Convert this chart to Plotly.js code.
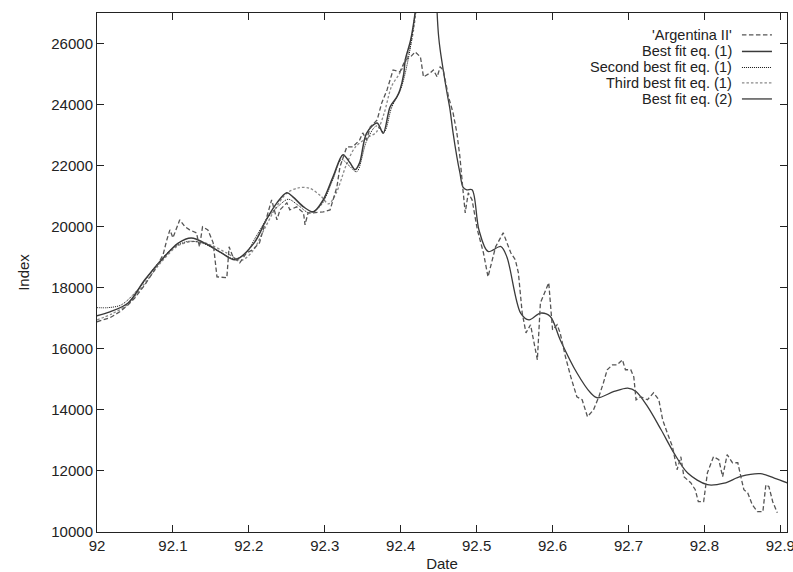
<!DOCTYPE html>
<html>
<head>
<meta charset="utf-8">
<script src="https://cdn.plot.ly/plotly-3.0.1.min.js"></script>
<style>
  html, body { margin: 0; padding: 0; background: #fff; }
  #chart { width: 793px; height: 572px; }
</style>
</head>
<body>
<div id="chart"></div>
<script>
// ---- Data ----
const seriesNames = ["'Argentina II'", "Best fit eq. (1)", "Second best fit eq. (1)", "Third best fit eq. (1)", "Best fit eq. (2)"];

const argX = [92.000,92.017,92.030,92.041,92.050,92.063,92.076,92.087,92.092,92.096,92.100,92.109,92.116,92.122,92.131,92.135,92.139,92.146,92.153,92.158,92.171,92.174,92.179,92.188,92.197,92.205,92.214,92.223,92.230,92.237,92.241,92.250,92.254,92.263,92.272,92.274,92.278,92.285,92.298,92.307,92.311,92.316,92.320,92.329,92.337,92.346,92.350,92.355,92.360,92.369,92.375,92.382,92.390,92.399,92.406,92.413,92.419,92.426,92.430,92.439,92.443,92.448,92.452,92.456,92.463,92.469,92.474,92.478,92.482,92.485,92.489,92.494,92.501,92.509,92.515,92.525,92.535,92.545,92.551,92.555,92.560,92.565,92.571,92.580,92.584,92.595,92.600,92.606,92.610,92.617,92.624,92.632,92.639,92.646,92.654,92.661,92.667,92.672,92.679,92.685,92.692,92.696,92.703,92.707,92.710,92.716,92.725,92.733,92.740,92.745,92.751,92.758,92.764,92.769,92.773,92.782,92.788,92.792,92.799,92.804,92.812,92.819,92.824,92.830,92.837,92.844,92.848,92.852,92.857,92.863,92.870,92.877,92.881,92.885,92.890,92.896];
const argY = [16885,17016,17212,17442,17671,18097,18588,19079,19570,19897,19635,20225,19995,19897,19799,19341,19995,19897,19472,18359,18326,19341,19014,18817,19145,19243,19472,20225,20880,20225,20552,20781,20552,20650,20454,20061,20454,20454,20487,20552,20880,21305,21960,22614,22614,22844,23073,22844,23269,23498,24055,24481,25135,25070,25463,25561,25725,25561,24907,25038,25135,24907,25234,25135,24252,23728,23073,22287,21207,20454,21109,20880,19897,19145,18359,19341,19799,19145,18915,18490,17180,16524,16787,15641,17507,18163,16623,16787,16524,15739,15084,14430,14332,13775,14004,14430,14888,15314,15477,15477,15641,15314,15314,15084,14332,14430,14332,14561,14332,13677,13251,12793,12040,12465,11811,11614,11385,10992,10992,11941,12465,12367,11811,12531,12269,12269,11811,11385,11287,10894,10665,10665,11549,11483,10992,10632];

const fit1X = [92.000,92.017,92.041,92.063,92.085,92.107,92.124,92.146,92.164,92.182,92.207,92.223,92.237,92.250,92.258,92.272,92.285,92.298,92.311,92.324,92.333,92.340,92.346,92.355,92.369,92.377,92.386,92.395,92.399,92.404,92.406,92.413,92.419,92.423];
const fit1Y = [17080,17210,17500,18260,18910,19460,19630,19410,19140,18920,19470,20230,20780,21110,20980,20650,20490,20880,21640,22360,22100,21870,22100,23060,23400,23060,23920,24250,24480,25000,25460,26100,27000,28000];

const fit2X = [92.000,92.015,92.032,92.054,92.080,92.100,92.120,92.140,92.160,92.180,92.195,92.210,92.225,92.240,92.252,92.265,92.280,92.295,92.310,92.322,92.332,92.342,92.355,92.368,92.378,92.388,92.400,92.410,92.418,92.423];
const fit2Y = [17350,17350,17440,17950,18800,19300,19520,19450,19200,18950,19100,19700,20300,20700,20900,20700,20450,20700,21500,22200,22000,21800,22800,23300,23100,23900,24500,25500,26800,28000];

const fit3X = [92.000,92.020,92.040,92.063,92.085,92.107,92.130,92.150,92.170,92.190,92.205,92.220,92.235,92.250,92.265,92.280,92.295,92.305,92.315,92.328,92.340,92.355,92.368,92.378,92.388,92.398,92.408,92.416,92.422,92.426];
const fit3Y = [16950,17150,17450,18150,18850,19380,19520,19400,19150,18900,19200,19900,20600,21100,21270,21260,21000,20750,21100,22000,22600,22900,23100,23700,24600,25000,25500,26300,27500,28500];

const fit4X = [92.447,92.448,92.450,92.452,92.456,92.461,92.465,92.469,92.474,92.478,92.482,92.487,92.494,92.503,92.515,92.532,92.540,92.558,92.569,92.584,92.597,92.610,92.632,92.650,92.659,92.681,92.699,92.710,92.725,92.743,92.760,92.778,92.804,92.826,92.848,92.874,92.892,92.910];
const fit4Y = [28000,27000,26220,25790,25135,24380,23830,23073,22290,21760,21300,21210,21210,19900,19190,19350,19000,17170,16950,17170,17060,16300,15216,14560,14397,14603,14715,14603,14112,13349,12586,11932,11550,11600,11820,11910,11768,11604];

const xTicks = [92, 92.1, 92.2, 92.3, 92.4, 92.5, 92.6, 92.7, 92.8, 92.9];
const xTickText = ["92", "92.1", "92.2", "92.3", "92.4", "92.5", "92.6", "92.7", "92.8", "92.9"];
const yTicks = [10000, 12000, 14000, 16000, 18000, 20000, 22000, 24000, 26000];
const yTickText = ["10000", "12000", "14000", "16000", "18000", "20000", "22000", "24000", "26000"];

// ---- Styles ----
const styles = [
  {color: '#555555', width: 1.3, dash: '4.5px,2.5px'},
  {color: '#3a3a3a', width: 1.5, dash: 'solid'},
  {color: '#111111', width: 1.0, dash: '1px,1px'},
  {color: '#8a8a8a', width: 1.3, dash: '2.5px,2px'},
  {color: '#3a3a3a', width: 1.3, dash: 'solid'}
];

const xs = [argX, fit1X, fit2X, fit3X, fit4X];
const ys = [argY, fit1Y, fit2Y, fit3Y, fit4Y];
const order = [3, 2, 1, 4, 0];

const traces = order.map(i => ({
  type: 'scatter', mode: 'lines', name: seriesNames[i],
  x: xs[i], y: ys[i],
  line: Object.assign({}, styles[i], i === 0 ? {shape: 'linear'} : {shape: 'spline', smoothing: 0.9}),
  showlegend: false, hoverinfo: 'skip'
}));

const font = {family: 'Liberation Sans, Arial, sans-serif', size: 15, color: '#222'};
const legFont = {family: 'Liberation Sans, Arial, sans-serif', size: 14.5, color: '#222'};

// Manual gnuplot-style legend: right-aligned text with sample line on the right
const legRows = [0.9577, 0.9259, 0.8950, 0.8652, 0.8344];
const annotations = seriesNames.map((n, i) => ({
  xref: 'paper', yref: 'paper', x: 0.9221, y: legRows[i],
  xanchor: 'right', yanchor: 'middle', text: n, showarrow: false, font: legFont,
  borderpad: 0
}));
const shapes = seriesNames.map((n, i) => ({
  type: 'line', xref: 'paper', yref: 'paper',
  x0: 0.9347, x1: 0.9782, y0: legRows[i], y1: legRows[i],
  line: {color: styles[i].color, width: styles[i].width, dash: styles[i].dash}
}));

const layout = {
  width: 793, height: 572,
  margin: {l: 97, r: 6, t: 13, b: 40},
  paper_bgcolor: '#fff', plot_bgcolor: '#fff',
  font: font,
  xaxis: {
    range: [92, 92.9088], tickvals: xTicks, ticktext: xTickText,
    ticklabeloverflow: 'allow',
    showgrid: false, zeroline: false, showline: true, linecolor: '#222', linewidth: 1,
    mirror: 'ticks', ticks: 'inside', ticklen: 7, tickcolor: '#222', tickwidth: 1,
    tickfont: font,
    title: {text: 'Date', font: font, standoff: 6}
  },
  yaxis: {
    range: [10000, 27000], tickvals: yTicks, ticktext: yTickText,
    ticklabeloverflow: 'allow',
    showgrid: false, zeroline: false, showline: true, linecolor: '#222', linewidth: 1,
    mirror: 'ticks', ticks: 'inside', ticklen: 7, tickcolor: '#222', tickwidth: 1,
    tickfont: font,
    title: {text: 'Index', font: font, standoff: 18}
  },
  annotations: annotations,
  shapes: shapes
};

Plotly.newPlot('chart', traces, layout, {displayModeBar: false, staticPlot: true});
</script>
</body>
</html>
